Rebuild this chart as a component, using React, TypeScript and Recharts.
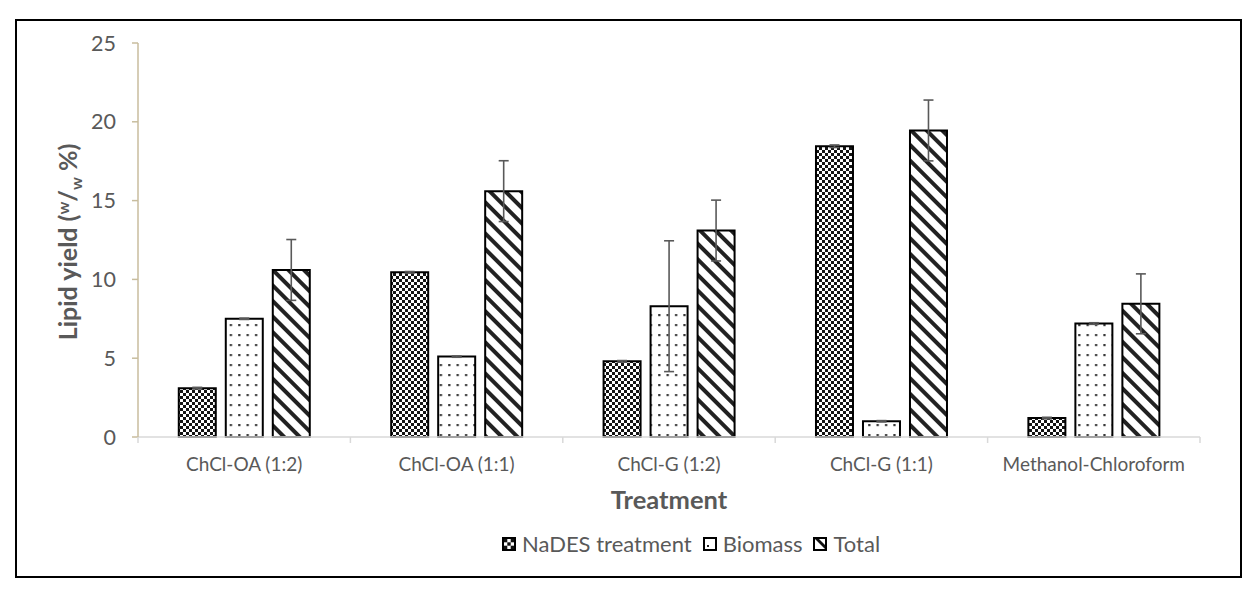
import { BarChart, Bar, XAxis, YAxis, ErrorBar, Legend } from 'recharts';

const categories = ['ChCl-OA (1:2)', 'ChCl-OA (1:1)', 'ChCl-G (1:2)', 'ChCl-G (1:1)', 'Methanol-Chloroform'];
const nadesValues = [3.1, 10.45, 4.8, 18.45, 1.2];
const nadesErrors = [0.05, 0.05, 0.05, 0.08, 0.05];
const biomassValues = [7.5, 5.1, 8.3, 1.0, 7.2];
const biomassErrors = [0.04, 0.04, 4.15, 0.04, 0.05];
const totalValues = [10.6, 15.6, 13.1, 19.45, 8.45];
const totalErrors = [1.93, 1.93, 1.93, 1.93, 1.9];
const yTicks = [0, 5, 10, 15, 20, 25];

const FONT = 'Lato, "Open Sans", sans-serif';
const TEXT = '#595959';

const data = categories.map((name, i) => ({
  name,
  nades: nadesValues[i],
  nadesErr: nadesErrors[i],
  biomass: biomassValues[i],
  biomassErr: biomassErrors[i],
  total: totalValues[i],
  totalErr: totalErrors[i],
}));

// category label plus the boundary tick marks between categories
const CategoryTick = (props: any) => {
  const { x, y, payload, index, visibleTicksCount } = props;
  const half = payload.offset ?? 0;
  const isLast = index === (visibleTicksCount ?? categories.length) - 1;
  return (
    <g>
      <line x1={x - half} x2={x - half} y1={y - 6} y2={y} stroke="#d9d9d9" strokeWidth={1.5} />
      {isLast && <line x1={x + half} x2={x + half} y1={y - 6} y2={y} stroke="#d9d9d9" strokeWidth={1.5} />}
      <text x={x} y={y + 28} textAnchor="middle" fill={TEXT} fontSize={19} fontFamily={FONT}>
        {payload.value}
      </text>
    </g>
  );
};

const YTitle = () => {
  const cx = 77;
  const cy = 242;
  return (
    <text
      x={cx}
      y={cy}
      transform={`rotate(-90, ${cx}, ${cy})`}
      textAnchor="middle"
      fill={TEXT}
      fontSize={25}
      fontWeight="bold"
      fontFamily={FONT}
    >
      Lipid yield (
      <tspan dy={-8} fontSize={16}>w</tspan>
      <tspan dy={8}>/</tspan>
      <tspan dy={5} fontSize={16}>w</tspan>
      <tspan dy={-5}> %)</tspan>
    </text>
  );
};

const XTitle = (props: any) => {
  const { viewBox } = props;
  return (
    <text
      x={viewBox.x + viewBox.width / 2}
      y={viewBox.y + 72}
      textAnchor="middle"
      fill={TEXT}
      fontSize={25.5}
      fontWeight="bold"
      fontFamily={FONT}
    >
      Treatment
    </text>
  );
};

const legendItems = [
  { label: 'NaDES treatment', kind: 'chk' },
  { label: 'Biomass', kind: 'dot' },
  { label: 'Total', kind: 'diag' },
];

const LegendIcon = ({ kind }: { kind: string }) => (
  <svg width={14} height={14} style={{ display: 'block' }}>
    <rect x={1} y={1} width={12} height={12} fill="#fff" stroke="#000" strokeWidth={2} />
    {kind === 'chk' && (
      <g fill="#111">
        <rect x={2} y={2} width={3.3} height={3.3} />
        <rect x={8.7} y={2} width={3.3} height={3.3} />
        <rect x={5.3} y={5.3} width={3.4} height={3.4} />
        <rect x={2} y={8.7} width={3.3} height={3.3} />
        <rect x={8.7} y={8.7} width={3.3} height={3.3} />
      </g>
    )}
    {kind === 'dot' && <rect x={4} y={8} width={2} height={2} fill="#222" />}
    {kind === 'diag' && <polygon points="2,2 6,2 12,8 12,12" fill="#111" />}
  </svg>
);

const LegendContent = () => (
  <div style={{ display: 'flex', alignItems: 'center', gap: 11, paddingLeft: 502 }}>
    {legendItems.map((it) => (
      <div key={it.label} style={{ display: 'flex', alignItems: 'center', gap: 6 }}>
        <LegendIcon kind={it.kind} />
        <span style={{ fontFamily: FONT, fontSize: 22, color: TEXT, lineHeight: '26px' }}>{it.label}</span>
      </div>
    ))}
  </div>
);

export default function App() {
  return (
    <div style={{ position: 'absolute', left: 0, top: 0, width: 1249, height: 590, background: '#fff' }}>
      <div
        style={{
          position: 'absolute',
          left: 15,
          top: 19,
          width: 1223,
          height: 555,
          border: '2px solid #000',
        }}
      />
      <div style={{ position: 'absolute', left: 0, top: 0 }}>
        <BarChart
          width={1249}
          height={590}
          data={data}
          margin={{ top: 43, right: 49, bottom: 73, left: 0 }}
          barCategoryGap="19.2%"
          barGap={10}
        >
          <defs>
            <pattern id="chk" width={6} height={6} patternUnits="userSpaceOnUse">
              <rect width={6} height={6} fill="#fff" />
              <rect x={0} y={0} width={3} height={3} fill="#141414" />
              <rect x={3} y={3} width={3} height={3} fill="#141414" />
            </pattern>
            <pattern id="dot" width={8.4} height={10} patternUnits="userSpaceOnUse">
              <rect width={8.4} height={10} fill="#fff" />
              <rect x={3} y={4} width={2.2} height={2.2} fill="#333" />
            </pattern>
            <pattern id="diag" width={11} height={11} patternUnits="userSpaceOnUse" patternTransform="rotate(-45)">
              <rect width={11} height={11} fill="#fff" />
              <rect x={0} y={0} width={4} height={11} fill="#222" />
            </pattern>
          </defs>
          <XAxis
            dataKey="name"
            height={80}
            axisLine={{ stroke: '#d9d9d9', strokeWidth: 1.5 }}
            tickLine={false}
            tickSize={6}
            tickMargin={0}
            interval={0}
            tick={<CategoryTick />}
            label={<XTitle />}
          />
          <YAxis
            width={138}
            domain={[0, 25]}
            ticks={yTicks}
            axisLine={{ stroke: '#c8bd9e', strokeWidth: 1.5 }}
            tickLine={{ stroke: '#c8bd9e', strokeWidth: 1.5 }}
            tickSize={6}
            tickMargin={16}
            tick={{ fill: TEXT, fontSize: 21.5, fontFamily: FONT }}
            label={<YTitle />}
          />
          <Legend
            verticalAlign="middle"
            align="center"
            layout="horizontal"
            wrapperStyle={{ top: 531, left: 0, width: 1249 }}
            content={<LegendContent />}
          />
          <Bar dataKey="nades" name="NaDES treatment" fill="url(#chk)" stroke="#000" strokeWidth={2} isAnimationActive={false}>
            <ErrorBar dataKey="nadesErr" width={5} stroke={TEXT} strokeWidth={1.6} direction="y" />
          </Bar>
          <Bar dataKey="biomass" name="Biomass" fill="url(#dot)" stroke="#000" strokeWidth={2} isAnimationActive={false}>
            <ErrorBar dataKey="biomassErr" width={5} stroke={TEXT} strokeWidth={1.6} direction="y" />
          </Bar>
          <Bar dataKey="total" name="Total" fill="url(#diag)" stroke="#000" strokeWidth={2} isAnimationActive={false}>
            <ErrorBar dataKey="totalErr" width={5} stroke={TEXT} strokeWidth={1.6} direction="y" />
          </Bar>
        </BarChart>
      </div>
    </div>
  );
}
